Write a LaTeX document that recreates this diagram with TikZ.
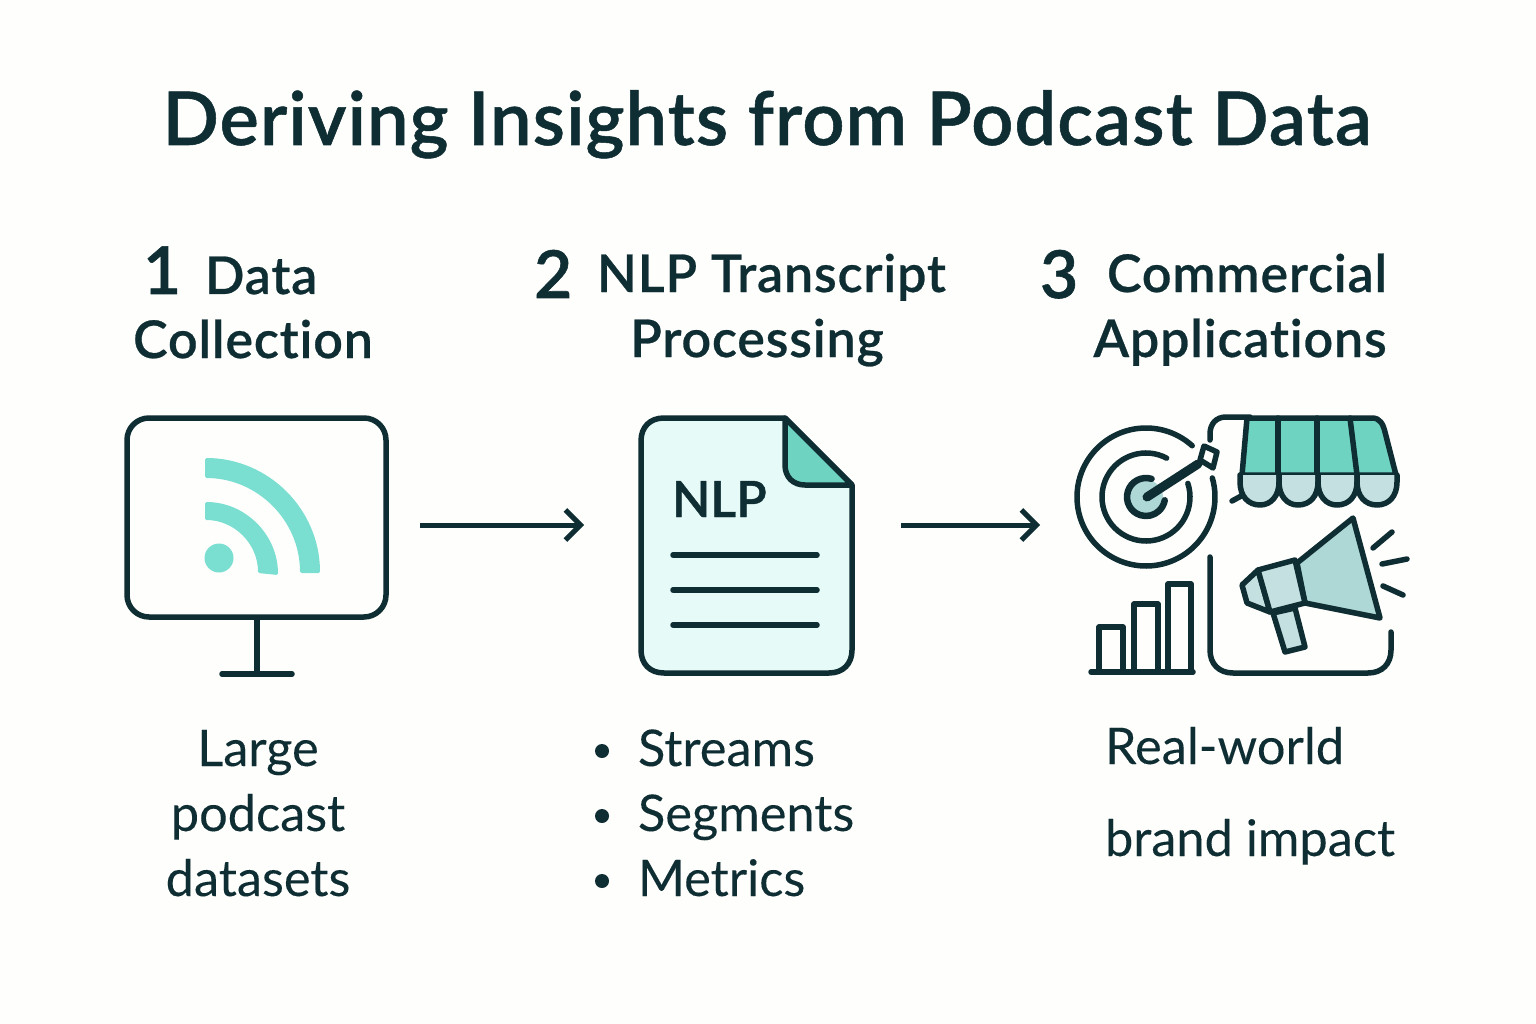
\documentclass[tikz,border=0pt]{standalone}
\usepackage{fontspec}
\setmainfont{Lato}[Ligatures=NoCommon,FakeBold=0.15]
\newfontfamily\medfont{Lato Semibold}[Ligatures=NoCommon,FakeBold=0.9]
\newfontfamily\headfont{Lato Semibold}[Ligatures=NoCommon,LetterSpace=1.6,FakeBold=0.5]
\newfontfamily\titlefont{Lato Semibold}[Ligatures=NoCommon,LetterSpace=1.5,FakeBold=0.7]
\usetikzlibrary{arrows.meta,calc}
\definecolor{ink}{HTML}{0F2E33}
\definecolor{bgc}{HTML}{FEFEFC}
\definecolor{mint}{HTML}{7ADFD0}
\definecolor{teal}{HTML}{6FD3C1}
\definecolor{pale}{HTML}{E6FAF8}
\definecolor{haze}{HTML}{C5E0E0}
\definecolor{haze2}{HTML}{AED8D6}
\newcommand{\fsz}[1]{\fontsize{#1}{#1}\selectfont}
\newcommand{\scallop}[3]{\filldraw[iconline,fill=haze] (#1,475) -- (#1,482) .. controls (#1,496) and (#1+8,505) .. (#2,505) .. controls (#3-8,505) and (#3,496) .. (#3,482) -- (#3,475);}
\tikzset{
  txt/.style={text=ink,anchor=base west,inner sep=0pt,outer sep=0pt},
  midtxt/.style={text=ink,anchor=base,inner sep=0pt,outer sep=0pt},
  heading/.style={txt,font=\headfont\fsz{52}},
  headmid/.style={midtxt,font=\headfont\fsz{52}},
  body/.style={txt,font=\fsz{50.5}},
  bodymid/.style={midtxt,font=\fsz{50.5}},
  numeral/.style={txt,font=\medfont\fsz{66}},
  iconline/.style={draw=ink,line width=5.5pt,line join=round,line cap=round},
  flow/.style={draw=ink,line width=5pt,-{Straight Barb[length=15pt,width=30pt,line width=5pt]}},
}
\begin{document}
\begin{tikzpicture}[x=1pt,y=-1pt]
\useasboundingbox (0,0) rectangle (1536,1024);
\fill[bgc] (0,0) rectangle (1536,1024);
\node[midtxt,font=\titlefont\fsz{74}] (title) at (767,145) {Deriving Insights from Podcast Data};
% headings
\node[numeral] (n1) at (143,294) {1};
\node[heading] (h1a) at (205,294) {Data};
\node[headmid] (h1b) at (253,358) {Collection};
\node[numeral] (n2) at (534,298) {2};
\node[heading] (h2a) at (597,292) {NLP Transcript};
\node[headmid] (h2b) at (757,357) {Processing};
\node[numeral] (n3) at (1040,298) {3};
\node[heading] (h3a) at (1107,292) {Commercial};
\node[headmid] (h3b) at (1240,357) {Applications};
% monitor
\node[iconline,rounded corners=22pt,minimum width=259pt,minimum height=199pt,inner sep=0pt] (mon) at (256.5,517.5) {};
\coordinate (stemfoot) at (257,674);
\draw[iconline,line cap=butt] (stemfoot |- mon.south) -- (stemfoot);
\draw[iconline] (222,674) -- (292,674);
\fill[mint,rounded corners=1.5pt] (205,458) arc[start angle=90,end angle=0,radius=115pt] -- (300,573) arc[start angle=0,end angle=90,radius=95pt] -- cycle;
\fill[mint,rounded corners=1.5pt] (205,502) arc[start angle=90,end angle=0,radius=73pt] -- (258,573) arc[start angle=0,end angle=90,radius=53pt] -- cycle;
\fill[mint] (219,558) circle[radius=14.5pt];
% document
\filldraw[iconline,fill=pale] (785,418) -- (664,418) .. controls (650,418) and (641,427) .. (641,441) -- (641,650) .. controls (641,664) and (650,673) .. (664,673) -- (829,673) .. controls (843,673) and (852,664) .. (852,650) -- (852,485) -- cycle;
\filldraw[iconline,fill=teal] (785,418) -- (785,465) .. controls (785,477) and (793,485) .. (805,485) -- (852,485) -- cycle;
\node[txt,font=\medfont\fsz{50}] (nlp) at (672,517) {NLP};
\foreach \ly in {555,590,625} \draw[iconline] (673,\ly) -- (817,\ly);
% arrows
\coordinate (a1s) at (420,525); \coordinate (a1e) at (584,525);
\coordinate (a2s) at (901,525); \coordinate (a2e) at (1040,525);
\draw[flow] (a1s) -- (a1e);
\draw[flow] (a2s) -- (a2e);
% target
\coordinate (tc) at (1146,497);
\fill[haze2] (tc) circle[radius=17pt];
\draw[iconline] (tc) ++(48:69pt) arc[start angle=48,end angle=376,radius=69pt];
\draw[iconline] (tc) ++(62:44pt) arc[start angle=62,end angle=378,radius=44pt];
\draw[iconline,line width=6.5pt] (tc) ++(73:19pt) arc[start angle=73,end angle=350,radius=19pt];
\draw[iconline,line width=9pt] (1147,497) -- (1198,464);
\filldraw[iconline,fill=bgc,line width=5.5pt] (1204,446) -- (1217,452) -- (1213,468) -- (1200,460) -- cycle;
% store frame
\draw[iconline] (1210,440) -- (1210,434) .. controls (1210,424) and (1216,417) .. (1226,417) -- (1250,417);
\draw[iconline] (1210,557) -- (1210,650) .. controls (1210,664) and (1219,673) .. (1233,673) -- (1368,673) .. controls (1382,673) and (1391,664) .. (1391,650) -- (1391,632);
\draw[iconline] (1232,501) -- (1243,495);
% awning
\filldraw[iconline,fill=teal] (1242,475) -- (1247,418) -- (1372,418) .. controls (1380,418) and (1383,424) .. (1385,432) -- (1396,475) -- cycle;
\draw[iconline] (1278,418) -- (1278,475);
\draw[iconline] (1317,418) -- (1317,475);
\draw[iconline] (1350,418) -- (1357,475);
\scallop{1240}{1260}{1279}
\scallop{1279}{1298}{1318}
\scallop{1318}{1337}{1357}
\scallop{1357}{1377}{1397}
% megaphone
\filldraw[iconline,fill=haze2] (1297,563) -- (1353,518) -- (1380,618) -- (1305,603) -- cycle;
\filldraw[iconline,fill=haze] (1273,613) -- (1285,652) -- (1305,647) -- (1295,608) -- cycle;
\filldraw[iconline,fill=haze] (1258,570) -- (1242,585) -- (1247,603) -- (1270,612) -- cycle;
\filldraw[iconline,fill=haze] (1258,570) -- (1295,560) -- (1305,603) -- (1270,612) -- cycle;
\draw[iconline] (1373,548) -- (1392,532);
\draw[iconline] (1382,564) -- (1407,559);
\draw[iconline] (1383,586) -- (1403,595);
% bars
\draw[iconline] (1099,672) -- (1099,627) -- (1123,627) -- (1123,672);
\draw[iconline] (1134,672) -- (1134,604) -- (1158,604) -- (1158,672);
\draw[iconline] (1168,672) -- (1168,584) -- (1191,584) -- (1191,672);
\draw[iconline] (1091,672) -- (1193,672);
% body text
\node[bodymid] (b1a) at (258,766) {Large};
\node[bodymid] (b1b) at (258,831) {podcast};
\node[bodymid] (b1c) at (258,896) {datasets};
\foreach \nm/\by/\tx in {s1/766/Streams,s2/831/Segments,s3/896/Metrics}{
  \node[body] (\nm) at (638,\by) {\tx};
  \fill[ink] (602,\by-15) circle[radius=7pt];
}
\node[body] (b3a) at (1105,764) {Real-world};
\node[body] (b3b) at (1105,856) {brand impact};
\end{tikzpicture}
\end{document}
